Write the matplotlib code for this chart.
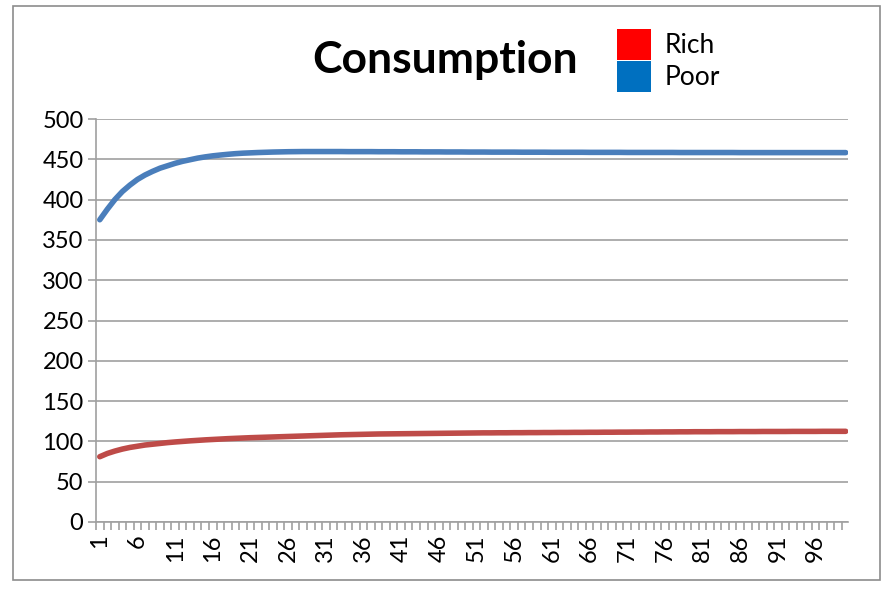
import matplotlib
matplotlib.use("Agg")
import matplotlib.pyplot as plt
from matplotlib.patches import Patch, Rectangle

plt.rcParams['font.family'] = ['Lato', 'DejaVu Sans']

periods = list(range(1, 101))

poor = [375, 388, 400, 410, 418, 425, 430.5, 435, 439, 442,
        445, 447.5, 449.5, 451.5, 453, 454.3, 455.3, 456.2, 457, 457.6,
        458, 458.4, 458.7, 459, 459.2, 459.4, 459.5, 459.6, 459.6, 459.6,
        459.6, 459.6, 459.6, 459.5, 459.5, 459.5, 459.5, 459.4, 459.4, 459.4,
        459.3, 459.3, 459.3, 459.2, 459.2, 459.2, 459.1, 459.1, 459.1, 459.0,
        459.0, 459.0, 458.9, 458.9, 458.9, 458.9, 458.8, 458.8, 458.8, 458.8,
        458.7, 458.7, 458.7, 458.7, 458.7, 458.6, 458.6, 458.6, 458.6, 458.6,
        458.5, 458.5, 458.5, 458.5, 458.5, 458.5, 458.5, 458.4, 458.4, 458.4,
        458.4, 458.4, 458.4, 458.4, 458.4, 458.3, 458.3, 458.3, 458.3, 458.3,
        458.3, 458.3, 458.3, 458.3, 458.3, 458.3, 458.3, 458.3, 458.3, 458.3]

rich = [81, 85, 88, 90.5, 92.5, 94, 95.5, 96.5, 97.5, 98.5,
        99.3, 100, 100.7, 101.3, 101.9, 102.4, 102.9, 103.4, 103.8, 104.2,
        104.6, 104.9, 105.2, 105.5, 105.8, 106.1, 106.4, 106.7, 107, 107.3,
        107.6, 107.9, 108.2, 108.4, 108.6, 108.8, 109, 109.2, 109.3, 109.4,
        109.5, 109.6, 109.7, 109.8, 109.9, 110, 110.1, 110.2, 110.3, 110.4,
        110.5, 110.6, 110.6, 110.7, 110.7, 110.8, 110.8, 110.9, 110.9, 111,
        111, 111.1, 111.1, 111.2, 111.2, 111.3, 111.3, 111.4, 111.4, 111.5,
        111.5, 111.6, 111.6, 111.7, 111.7, 111.8, 111.8, 111.9, 111.9, 112,
        112, 112, 112.1, 112.1, 112.1, 112.2, 112.2, 112.2, 112.3, 112.3,
        112.3, 112.3, 112.4, 112.4, 112.4, 112.4, 112.5, 112.5, 112.5, 112.5]

x_labels = [str(p) for p in range(1, 101, 5)]
y_ticks = list(range(0, 501, 50))

grid_col = '#a0a0a0'

fig = plt.figure(figsize=(8.94, 6.12), dpi=100)
# outer chart border
fig.patches.append(Rectangle((13 / 894, 1 - 580 / 612), 867 / 894, 574 / 612,
                             transform=fig.transFigure, fill=False,
                             edgecolor='#8c8c8c', linewidth=1.2))

ax = fig.add_axes([96 / 894, 1 - 522 / 612, 752 / 894, 403 / 612])
ax.plot(periods, poor, color='#4a7ebb', linewidth=4, solid_capstyle='round')
ax.plot(periods, rich, color='#be4b48', linewidth=4, solid_capstyle='round')

ax.set_ylim(0, 500)
ax.set_xlim(0.6, 100.3)
ax.set_yticks(y_ticks)
ax.set_yticklabels([str(v) for v in y_ticks], fontsize=17)
ax.set_xticks(range(1, 101, 5))
ax.set_xticklabels(x_labels, rotation=90, fontsize=17)
ax.set_xticks([p + 0.5 for p in range(0, 100)], minor=True)
ax.tick_params(axis='x', which='major', length=0, pad=9)
ax.tick_params(axis='x', which='minor', length=6, color=grid_col, width=1.2)
ax.tick_params(axis='y', length=6, color=grid_col, width=1.2, pad=3)
ax.grid(axis='y', color=grid_col, linewidth=1.2)
ax.set_axisbelow(True)
for side in ['top', 'right']:
    ax.spines[side].set_visible(False)
for side in ['left', 'bottom']:
    ax.spines[side].set_color(grid_col)
    ax.spines[side].set_linewidth(1.2)

fig.text(0.498, 1 - 60 / 612, 'Consumption', fontsize=32, fontweight='bold',
         ha='center', va='center')

handles = [Patch(facecolor='#ff0000', edgecolor='none'),
           Patch(facecolor='#0070c0', edgecolor='none')]
fig.legend(handles, ['Rich', 'Poor'], loc='upper left',
           bbox_to_anchor=(617 / 894, 1 - 29 / 612), frameon=False,
           fontsize=19, handlelength=1.29, handleheight=1.45,
           labelspacing=0.02, handletextpad=0.5, borderaxespad=0,
           borderpad=0)

fig.savefig('out.png', dpi=100)
